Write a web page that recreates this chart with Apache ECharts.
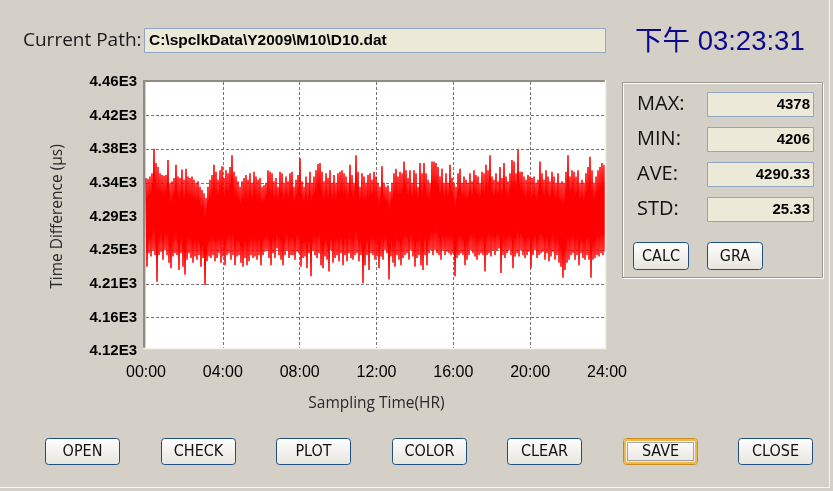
<!DOCTYPE html>
<html>
<head>
<meta charset="utf-8">
<script src="https://cdn.jsdelivr.net/npm/echarts@6/dist/echarts.min.js"></script>
<style>
  html, body { margin: 0; padding: 0; background: #d4d0c8; }
  #chart { width: 833px; height: 491px; }
</style>
</head>
<body>
<div id="chart"></div>
<script>
const xTickLabels = ["00:00", "04:00", "08:00", "12:00", "16:00", "20:00", "24:00"];
const yTickLabels = ["4.12E3", "4.16E3", "4.21E3", "4.25E3", "4.29E3", "4.34E3", "4.38E3", "4.42E3", "4.46E3"];

// upper / lower swing of each sampling pair left to right
const peakValues = [
  4341, 4340, 4343, 4347, 4378, 4360, 4355, 4347, 4345, 4344,
  4345, 4364, 4335, 4337, 4341, 4358, 4343, 4341, 4352, 4339,
  4353, 4343, 4341, 4343, 4339, 4335, 4337, 4330, 4326, 4322,
  4316, 4330, 4339, 4345, 4358, 4349, 4339, 4351, 4356, 4341,
  4351, 4347, 4355, 4370, 4349, 4343, 4337, 4330, 4337, 4341,
  4345, 4339, 4347, 4335, 4349, 4343, 4339, 4341,
  4330, 4332, 4335, 4351, 4349, 4347, 4337, 4341, 4330, 4349,
  4347, 4335, 4343, 4337, 4347, 4349, 4330, 4339, 4345, 4366,
  4337, 4330, 4343, 4335, 4349, 4335, 4343, 4351, 4359, 4360,
  4349, 4337, 4347, 4341, 4351, 4335, 4345, 4335, 4347, 4349,
  4351, 4347, 4343, 4335, 4358, 4345, 4335, 4370, 4349, 4330,
  4347, 4343, 4335, 4345, 4347, 4339, 4349, 4343,
  4335, 4330, 4356, 4335, 4330, 4332, 4324, 4335, 4347, 4353,
  4343, 4349, 4347, 4362, 4351, 4341, 4351, 4335, 4351, 4347,
  4330, 4360, 4347, 4360, 4347, 4339, 4335, 4362, 4362, 4360,
  4355, 4343, 4353, 4335, 4347, 4335, 4358, 4341, 4335, 4330,
  4347, 4353, 4335, 4343, 4339, 4335, 4347, 4337, 4351, 4345,
  4343, 4335, 4349, 4347, 4358, 4351, 4370,
  4343, 4339, 4347, 4337, 4355, 4341, 4360, 4343, 4337, 4347,
  4364, 4362, 4347, 4377, 4349, 4349, 4343, 4339, 4345, 4343,
  4341, 4343, 4335, 4339, 4362, 4347, 4339, 4351, 4343, 4337,
  4349, 4343, 4335, 4347, 4335, 4337, 4335, 4349, 4370, 4343,
  4351, 4349, 4343, 4351, 4335, 4339, 4335, 4347, 4355, 4368,
  4351, 4335, 4343, 4351, 4355, 4360, 4358
];
const troughValues = [
  4229, 4246, 4242, 4250, 4244, 4210, 4244, 4248, 4238, 4250,
  4244, 4234, 4227, 4242, 4246, 4244, 4225, 4246, 4229, 4219,
  4238, 4246, 4240, 4234, 4242, 4238, 4244, 4229, 4240, 4206,
  4236, 4242, 4240, 4244, 4236, 4240, 4246, 4234, 4242, 4231,
  4244, 4246, 4238, 4244, 4231, 4242, 4244, 4234, 4229, 4240,
  4231, 4236, 4244, 4240, 4242, 4238, 4244, 4231,
  4244, 4248, 4250, 4240, 4231, 4246, 4240, 4252, 4244, 4238,
  4231, 4244, 4250, 4240, 4244, 4244, 4238, 4248, 4246, 4229,
  4240, 4242, 4227, 4246, 4217, 4250, 4244, 4240, 4246, 4231,
  4227, 4242, 4238, 4223, 4250, 4234, 4240, 4244, 4236, 4246,
  4231, 4244, 4236, 4246, 4240, 4238, 4244, 4246, 4236, 4244,
  4208, 4231, 4244, 4225, 4246, 4244, 4238, 4242,
  4227, 4242, 4238, 4250, 4246, 4213, 4242, 4234, 4229, 4244,
  4238, 4231, 4240, 4244, 4246, 4238, 4250, 4242, 4229, 4240,
  4244, 4231, 4225, 4244, 4231, 4246, 4250, 4244, 4250, 4246,
  4244, 4238, 4250, 4244, 4248, 4246, 4244, 4246, 4217, 4240,
  4244, 4246, 4244, 4231, 4238, 4244, 4250, 4246, 4242, 4238,
  4244, 4246, 4244, 4223, 4244, 4246, 4242,
  4250, 4244, 4250, 4252, 4221, 4244, 4240, 4246, 4250, 4244,
  4227, 4242, 4246, 4242, 4250, 4244, 4240, 4244, 4248, 4227,
  4244, 4250, 4240, 4244, 4246, 4248, 4238, 4246, 4236, 4242,
  4248, 4238, 4244, 4234, 4229, 4215, 4225, 4234, 4238, 4244,
  4246, 4238, 4244, 4231, 4246, 4240, 4238, 4244, 4238, 4215,
  4238, 4240, 4244, 4242, 4246, 4244, 4248
];

const statLabels = ["MAX:", "MIN:", "AVE:", "STD:"];
const statValues = ["4378", "4206", "4290.33", "25.33"];
const buttonLabels = ["OPEN", "CHECK", "PLOT", "COLOR", "CLEAR", "SAVE", "CLOSE"];
const currentPath = "C:\\spclkData\\Y2009\\M10\\D10.dat";
const clockText = "下午 03:23:31";

const Y_MIN = 4122.5, Y_MAX = 4462.5, Y_STEP = 42.5;
const HOURS_PER_SAMPLE = 24 / 461;

const BG = "#d4d0c8";
const UI_FONT = '"Open Sans", "Noto Sans", sans-serif';
const NUM_FONT = '"Liberation Sans", Arial, sans-serif';
const BTN_FONT = '"Liberation Sans Narrow", "DejaVu Sans Condensed", sans-serif';

const samples = [];
peakValues.forEach((hi, i) => {
  samples.push([2 * i * HOURS_PER_SAMPLE, hi]);
  samples.push([(2 * i + 1) * HOURS_PER_SAMPLE, troughValues[i]]);
});

function button(x, y, w, h, label, focused) {
  const els = [{
    type: "rect", z: 60,
    shape: { x: x + 0.5, y: y + 0.5, width: w, height: h, r: 3 },
    style: {
      fill: new echarts.graphic.LinearGradient(0, 0, 0, 1, [
        { offset: 0, color: "#ffffff" }, { offset: 1, color: "#e6e4dc" }
      ]),
      stroke: focused ? "#c98a1e" : "#1f4f7f", lineWidth: 1
    }
  }];
  if (focused) {
    els.push({
      type: "rect", z: 61,
      shape: { x: x + 2, y: y + 2, width: w - 3, height: h - 3, r: 2 },
      style: { fill: "none", stroke: "#f0b848", lineWidth: 2 }
    });
    els.push({
      type: "rect", z: 61,
      shape: { x: x + 4.5, y: y + 4.5, width: w - 8, height: h - 8 },
      style: { fill: "none", stroke: "#555", lineWidth: 1, lineDash: [1, 1] }
    });
  }
  els.push({
    type: "text", z: 62, x: x + w / 2 + 0.5, y: y + h / 2 + 1,
    style: { text: label, fontSize: 16, fontFamily: BTN_FONT, fill: "#111", align: "center", verticalAlign: "middle" }
  });
  return els;
}

const elements = [
  // masks trimming the axis overhang, then the sunken plot frame
  { type: "rect", z: 50, shape: { x: 605, y: 76, width: 12, height: 282 }, style: { fill: BG } },
  { type: "rect", z: 50, shape: { x: 138, y: 348, width: 479, height: 8 }, style: { fill: BG } },
  { type: "polyline", z: 55, shape: { points: [[144, 348], [144, 81], [605, 81]] }, style: { stroke: "#8f8b83", lineWidth: 2, fill: "none" } },
  { type: "polyline", z: 55, shape: { points: [[143, 348.5], [605.5, 348.5], [605.5, 80]] }, style: { stroke: "#f3f2ec", lineWidth: 1.5, fill: "none" } },

  // window edges
  { type: "line", z: 55, shape: { x1: 829.5, y1: 0, x2: 829.5, y2: 488 }, style: { stroke: "#f6f5f1", lineWidth: 1 } },
  { type: "line", z: 55, shape: { x1: 0, y1: 487.5, x2: 830, y2: 487.5 }, style: { stroke: "#f6f5f1", lineWidth: 1 } },

  // path row and clock
  { type: "text", z: 60, x: 23, y: 41, style: { text: "Current Path:", fontSize: 19, fontFamily: UI_FONT, fill: "#1a1a1a", verticalAlign: "middle" } },
  { type: "rect", z: 60, shape: { x: 144.5, y: 28.5, width: 461, height: 24 }, style: { fill: "#ece9d8", stroke: "#8fa5c0", lineWidth: 1 } },
  { type: "text", z: 61, x: 149, y: 41, style: { text: currentPath, fontSize: 15.5, fontWeight: "bold", fontFamily: NUM_FONT, fill: "#000", verticalAlign: "middle" } },
  { type: "text", z: 60, x: 635, y: 42, style: { text: clockText, fontSize: 27.5, fontFamily: '"Liberation Sans", "Noto Sans CJK SC", sans-serif', fill: "#0a0a8a", verticalAlign: "middle" } },

  // statistics group box
  { type: "rect", z: 58, shape: { x: 623.5, y: 83.5, width: 200, height: 195 }, style: { fill: "none", stroke: "#ffffff", lineWidth: 1 } },
  { type: "rect", z: 59, shape: { x: 622.5, y: 82.5, width: 200, height: 195 }, style: { fill: "none", stroke: "#9d9991", lineWidth: 1 } }
];

const statTop = [92, 127, 162, 197];
statLabels.forEach((label, i) => {
  elements.push({ type: "text", z: 60, x: 637, y: statTop[i] + 12, style: { text: label, fontSize: 20, fontFamily: UI_FONT, fill: "#111", verticalAlign: "middle" } });
  elements.push({ type: "rect", z: 60, shape: { x: 707.5, y: statTop[i] + 0.5, width: 106, height: 24 }, style: { fill: "#ece9d8", stroke: "#8fa5c0", lineWidth: 1 } });
  elements.push({ type: "text", z: 61, x: 810, y: statTop[i] + 13, style: { text: statValues[i], fontSize: 15, fontWeight: "bold", fontFamily: NUM_FONT, fill: "#000", align: "right", verticalAlign: "middle" } });
});
elements.push(...button(633, 242, 55, 27, "CALC", false));
elements.push(...button(707, 242, 55, 27, "GRA", false));

const buttonLeft = [45, 161, 276, 392, 507, 623, 738];
buttonLabels.forEach((label, i) => {
  elements.push(...button(buttonLeft[i], 438, 74, 26, label, label === "SAVE"));
});

const chart = echarts.init(document.getElementById("chart"), null, { renderer: "canvas" });
chart.setOption({
  animation: false,
  backgroundColor: BG,
  grid: { left: 146, top: 82, width: 461, height: 269, show: true, backgroundColor: "#ffffff", borderWidth: 0 },
  xAxis: {
    type: "value",
    min: 0,
    max: 24,
    interval: 4,
    name: "Sampling Time(HR)",
    nameLocation: "middle",
    nameGap: 45,
    nameTextStyle: { fontSize: 15.5, fontFamily: UI_FONT, color: "#2a2a2a" },
    axisLine: { show: false },
    axisTick: { show: false },
    axisLabel: {
      margin: 14,
      fontSize: 16,
      fontFamily: NUM_FONT,
      color: "#000",
      formatter: (value) => xTickLabels[Math.round(value / 4)]
    },
    splitLine: { show: true, showMinLine: false, showMaxLine: false, lineStyle: { color: "#747474", width: 1, type: [3, 2] } }
  },
  yAxis: {
    type: "value",
    min: Y_MIN,
    max: Y_MAX,
    interval: Y_STEP,
    name: "Time Difference (µs)",
    nameLocation: "middle",
    nameGap: 80,
    nameTextStyle: { fontSize: 15.5, fontFamily: UI_FONT, color: "#2a2a2a" },
    axisLine: { show: false },
    axisTick: { show: false },
    axisLabel: {
      margin: 9,
      fontSize: 15,
      fontWeight: "bold",
      fontFamily: NUM_FONT,
      color: "#000",
      formatter: (value) => yTickLabels[Math.round((value - Y_MIN) / Y_STEP)]
    },
    splitLine: { show: true, showMinLine: false, showMaxLine: false, lineStyle: { color: "#747474", width: 1, type: [3, 2] } }
  },
  series: [{
    type: "line",
    data: samples,
    symbol: "none",
    silent: true,
    lineStyle: { color: "#ff0000", width: 1.5 },
    z: 3
  }],
  graphic: { elements: elements }
});
</script>
</body>
</html>
